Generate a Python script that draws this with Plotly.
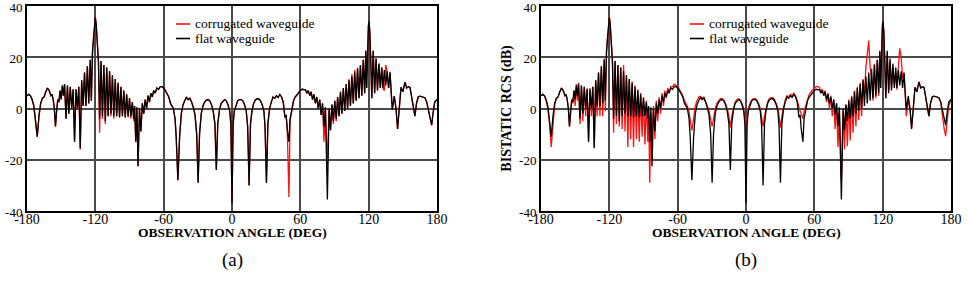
import plotly.graph_objects as go

# ---------------- data ----------------
# Observation angle (deg) of the sampled turning points
ANGLE = [
    -180, -178.5, -177, -175.5, -174, -172.5, -171, -169.5, -168, -166.5,
    -165, -163.5, -162, -160.5, -159, -158, -157, -156, -155, -154,
    -153, -152, -151, -150, -149, -148, -147,
    -145.75, -144.5, -143.25, -142, -140.75, -139.5, -138.25, -137, -135.75, -134.5,
    -133.25, -132, -130.75, -129.5, -128.25, -127, -125.75, -124.5, -123.5, -122.5,
    -121.5, -120.75, -120, -119.25, -118.25, -117.25, -116.25, -115, -113.75, -112.5, -111.25, -110,
    -108.75, -107.5, -106.25, -105, -103.75, -102.5, -101.25, -100, -98.75, -97.5,
    -96.25, -95, -93.75, -92.5, -91.25, -90, -88.75, -87.5, -86.25, -85.5,
    -84.5, -83.5, -82.5, -81.25, -80, -78.75, -77.5, -76.25, -75, -73.75,
    -72.5, -71.25, -70, -68.75, -67.5, -66, -64.5, -63, -61.5, -60,
    -58.5, -57, -55.5, -54, -52.5, -51.5, -50, -49, -47.5, -46,
    -44.5, -43, -41.5, -40, -38.5, -37, -35.5, -34, -32.5, -31,
    -29.75, -28.5, -27, -25.5, -24, -22.5, -21, -19.5, -18, -16.5,
    -15, -13.75, -12.5, -11, -9.5, -8, -6.5, -5, -3.5, -2,
    -1, 0, 1, 2, 3.5, 5, 6.5, 8, 9.5, 11,
    12.5, 13.75, 15, 16.25, 17.5, 19, 20.5, 22, 23.5, 25,
    26.5, 28, 29, 30.25, 31.5, 33, 34.5, 36, 37.5, 39,
    40.5, 42, 43.5, 45, 46.5, 47.5, 48.5, 50, 51, 52.5,
    54, 55.5, 57, 58.5, 60, 61.5, 63, 64.5, 65.75, 67,
    68.25, 69.5, 70.75, 72, 73.25, 74.5, 75.75, 77, 78.25, 79.5,
    80.75, 82, 83.75, 85.25, 86.5, 87.75, 89, 90.25, 91.5, 92.75,
    94, 95.25, 96.5, 97.75, 99, 100.25, 101.5, 102.75, 104, 105.25,
    106.5, 107.75, 109, 110.25, 111.5, 112.75, 114, 115.25, 116.5, 117.5,
    118.25, 119, 119.75, 120.25, 121, 121.75, 122.75, 124, 125.25, 126.5, 127.75, 129, 130.25,
    131.5, 132.5, 133.75, 135, 136.25, 137.5, 138.75, 140, 140.75, 142.5,
    144, 145.4, 147, 148.4, 150, 151.9, 153.4, 155, 156.3, 158,
    159.5, 160.6, 162, 163.5, 165, 167, 169.4, 171, 172.5, 174,
    175.3, 176.5, 178, 180,
]

# Bistatic RCS (dB) of the flat waveguide (same in panels a and b)
FLAT = [
    5, 5.5, 5, 3.5, 1, -4, -11, -3, 2, 4,
    4.5, 6.5, 8, 7, 5, 5.5, 3.5, 0, -7, -1,
    3.5, 2.5, 7, 3.5, 9, 5, 9.5,
    -4, 9, -2, 8.5, 0, 7.5, -13, 7.5, 0, 8.5,
    -15.5, 11, 1, 14, 1, 16.5, 2, 19, 3, 22,
    28, 34, 35.5, 33, 26, 18, -4, 18.5, -3, 17, -5, 16,
    -3, 14.5, -2, 13, -3, 11.5, -3, 10, -3.5, 8.5,
    -3, 7, -3.5, 5.5, -3, 4, -3, 2.5, -4, 1,
    -13, 0.5, -22.5, 0, -9, 2, -2, 3.5, 0, 5,
    2.5, 6, 4.5, 7, 6, 8, 7.5, 8.5, 8.5, 8,
    7, 6, 4.5, 2, 1, 0, -4, -11, -28, -11,
    -2, 1.5, 3, 4.3, 3.5, 4, 2.5, 0.5, -2.5, -10,
    -29, -10, -2, 1, 2.5, 3.3, 3.5, 3, 1.5, -1,
    -6, -24, -6, -0.5, 2, 3, 3.5, 3, 1.5, -1,
    -6, -37, -6, -1, 1.5, 3, 3.5, 3.5, 3, 1.5,
    -1, -7, -30, -6, -1, 2, 3.3, 3.8, 3.8, 3,
    1.5, -1, -7, -29, -6, 0, 2.5, 4.5, 4, 5,
    4.3, 5.5, 4.5, 2.5, -3.5, -2.5, -8, -13, -4, 0,
    3, 4.5, 5.5, 6.5, 7, 7.5, 7.5, 7.3, 6, 7,
    5, 6.5, 3.5, 5.5, 2, 4.5, 0, 3.5, -2.5, 2,
    -7, 0.5, -35.5, 0, -8.5, 1.5, -5, 3, -4, 4.5,
    -3, 6.5, -2, 8, -1, 9.5, 0, 11, 1, 12.5,
    2, 14, 3, 15.5, 4, 17, 5, 19, 6, 22.5,
    8, 24, 32, 34, 30, 20, 4, 22.5, 6, 19.5, 7, 17.5, 8,
    16, 8, 15, 9, 14.5, 8, 14, 5, -0.5, 4.8,
    0, -8, 3, 8.3, 6.5, 10.3, 8, 8.5, 8.2, 4,
    0, -3, 2, 4.5, 4.8, 4.5, 4.2, 2.5, -1, -4,
    -6.5, -2, 2.5, 3.5,
]

# Corrugated waveguide, panel (a)
CORR_A = [
    5, 5.5, 5, 3.5, 1, -4, -11, -3, 2, 4,
    4.5, 6.5, 8, 7, 5, 5.5, 3.5, 0, -7, -1,
    3.5, 2.5, 7, 3.5, 9, 5, 9.5,
    -4, 9, -2, 8.5, 0, 7.5, -13, 7.5, 0, 8.5,
    -16, 11, 1, 14, 1, 16.5, 2, 19, 3, 22,
    28, 34, 35.5, 33, 26, 18, -9.5, 18.5, -4, 17, -6, 16,
    -3, 14.5, -3, 13, -4, 11.5, -3, 10, -3.5, 8.5,
    -3, 7, -3.5, 5.5, -3.5, 4, -4, 2.5, -5, 1,
    -13, 0.5, -22.5, 0, -9, 2, -2, 3.5, 0, 5,
    2.5, 6, 4.5, 7, 6, 8, 7.5, 8.5, 8.5, 8,
    7, 6, 4.5, 2, 1, 0, -4, -11, -28, -11,
    -2, 1.5, 3, 4.3, 3.5, 4, 2.5, 0.5, -2.5, -10,
    -29, -10, -2, 1, 2.5, 3.3, 3.5, 3, 1.5, -1,
    -6, -24, -6, -0.5, 2, 3, 3.5, 3, 1.5, -1,
    -6, -37, -6, -1, 1.5, 3, 3.5, 3.5, 3, 1.5,
    -1, -7, -30, -6, -1, 2, 3.3, 3.8, 3.8, 3,
    1.5, -1, -7, -29, -6, 0, 2.5, 4.5, 4, 5,
    4.3, 5.5, 4.5, 2.5, -3.5, -2.5, -8, -34.5, -5, 0,
    3, 4.5, 5.5, 6.5, 7, 7.5, 7.5, 7.3, 6, 7,
    5, 6.5, 3.5, 5.5, 2, 4.5, 0, 3.5, -2.5, 2,
    -13, 0.5, -22, 0, -8.5, 1.5, -6, 3, -5, 4.5,
    -3, 6.5, -2, 8, -1, 9.5, 0, 11.5, 1, 13.5,
    2, 15, 3, 16, 4, 17, 5, 19, 6, 22.5,
    8, 24, 32, 34, 30, 20, 4, 22.5, 6, 19.5, 7, 17.5, 8,
    16, 8, 7, 17, 14, 8, 14.3, 5, -0.5, 4.8,
    0, -8, 3, 8.3, 6.5, 10.3, 8, 8.5, 8.2, 4,
    0, -3, 2, 4.5, 4.8, 4.5, 4.2, 2.5, -1, -4,
    -6.5, -2, 2.5, 3.5,
]

# Corrugated waveguide, panel (b)
CORR_B = [
    5, 5.5, 5, 3, 0, -6, -15, -5, 1.5, 4,
    4.5, 6.5, 8, 7, 5, 5.5, 3.5, 0, -7, -2,
    3.5, 2, 7, 1, 9.5, 3, 10,
    -6, 9, -5, 8.5, -3, 8, -13, 8, -3, 8.5,
    -15, 11, -3, 14, -3, 16.5, -3, 19.5, -1, 22,
    28, 34, 35.8, 33, 26, 18, -9.5, 18.5, -6, 17, -7, 16,
    -8, 17, -9, 13, -15, 11.5, -12, 10.5, -15, 9,
    -12, 7.5, -13, 6, -11, 4.5, -14, 3, -13, 0,
    -29, -2, -10, 1, -12, 3, -5, 4.5, -2, 6,
    1, 7, 4, 8, 6.5, 8.5, 8.5, 9.5, 9, 8.5,
    7.5, 6.5, 5, 3, 2, 1, -1.5, -5, -8.5, -4,
    1, 3, 4.5, 4.8, 4, 4.5, 3, 1, -1, -5,
    -7, -4, 0, 2, 3, 3.8, 3.8, 3.3, 2, 0,
    -3, -7.5, -3, 0.5, 2.5, 3.5, 3.8, 3.3, 2, 0,
    -3, -7, -3, 0, 2, 3.3, 3.8, 3.8, 3.3, 2,
    0, -3, -7, -3, 0, 2.5, 3.8, 4.2, 4.2, 3.5,
    2, 0, -3, -7.5, -3, 1, 3.5, 5, 4.5, 5.5,
    5, 6, 5, 3, 0, -1, -2, -4, -1, 1.5,
    4, 5.5, 6.5, 7.5, 8, 8.5, 8.6, 8.2, 6.5, 7.5,
    5, 7, 2.5, 6, 0, 5, -3, 3.5, -8, 2,
    -15, -1, -28.3, -1, -16, 1.5, -14.7, 3.5, -12.5, 5,
    -9.5, 7, -7, 8.5, -4.5, 10, -3, 11.5, 5, 16,
    23, 26.5, 16, 12, 3, 17.5, 4, 19, 5, 22,
    8, 24, 32, 34.2, 30, 20, 4, 21, 7, 18, 8, 16, 9,
    14, 7.3, 16, 23.5, 20, 12, 13.8, 3, -3, 3,
    0, -7.6, 3, 8.3, 6.5, 10.5, 8, 8.5, 8.2, 4,
    0, -3, 2, 4.5, 4.8, 4.5, 4.2, 2.5, -3, -8,
    -10.8, -4, 1, 3.5,
]

assert len(ANGLE) == len(FLAT) == len(CORR_A) == len(CORR_B)

SERIES_NAMES = ["corrugated waveguide", "flat waveguide"]
X_TICKS = [-180, -120, -60, 0, 60, 120, 180]
X_TICK_TEXT = ["-180", "-120", "-60", "0", "60", "120", "180"]
Y_TICKS = [-40, -20, 0, 20, 40]
Y_TICK_TEXT = ["-40", "-20", "0", "20", "40"]
PANEL_LABELS = ["(a)", "(b)"]
X_TITLE = "OBSERVATION ANGLE (DEG)"
Y_TITLE = "BISTATIC RCS (dB)"

# ---------------- figure ----------------
SERIF = "Liberation Serif, Times New Roman, serif"
RED = "#ff1010"
BLACK = "#000000"
COLORS = [RED, BLACK]

fig = go.Figure()
for corr, xa, ya in [(CORR_A, "x", "y"), (CORR_B, "x2", "y2")]:
    fig.add_trace(go.Scatter(x=ANGLE, y=corr, mode="lines", name=SERIES_NAMES[0],
                             line=dict(color=RED, width=1.3), xaxis=xa, yaxis=ya,
                             showlegend=False))
    fig.add_trace(go.Scatter(x=ANGLE, y=FLAT, mode="lines", name=SERIES_NAMES[1],
                             line=dict(color=BLACK, width=1.3), xaxis=xa, yaxis=ya,
                             showlegend=False))

W, H = 968, 282
ML, MR, MT, MB = 27, 17, 6, 71
PW = W - ML - MR
PH = H - MT - MB


def px_x(px):
    return (px - ML) / PW


def px_y(py):
    return (H - MB - py) / PH


axis_common = dict(
    showline=True, mirror=True, linecolor="black", linewidth=2,
    showgrid=True, gridcolor="#4a4a4a", gridwidth=1.5, zeroline=False,
    ticks="", automargin=False, ticklabeloverflow="allow",
)
xa_common = dict(axis_common, range=[-180, 180], tickmode="array",
                 tickvals=X_TICKS, ticktext=X_TICK_TEXT, ticklabelstandoff=-6,
                 tickfont=dict(family=SERIF, size=14, color="black"))
ya_common = dict(axis_common, range=[-40, 40], tickmode="array",
                 tickvals=Y_TICKS, ticktext=Y_TICK_TEXT, ticklabelstandoff=0,
                 ticklabelshift=1,
                 tickfont=dict(family=SERIF, size=13, color="black"))

annotations = []
shapes = []
for k, (cx, leg_x0) in enumerate([(232, 176), (746, 690)]):
    # panel label
    annotations.append(dict(text=PANEL_LABELS[k], x=px_x(cx), y=px_y(260),
                            xref="paper", yref="paper", xanchor="center", yanchor="middle",
                            showarrow=False, font=dict(family=SERIF, size=19, color="black")))
    # x-axis title
    annotations.append(dict(text="<b>" + X_TITLE + "</b>", x=px_x(cx), y=px_y(232),
                            xref="paper", yref="paper", xanchor="center", yanchor="middle",
                            showarrow=False, font=dict(family=SERIF, size=13.5, color="black")))
    # legend (drawn as line samples + labels)
    for j, name in enumerate(SERIES_NAMES):
        yy = px_y(24 + 14.5 * j)
        shapes.append(dict(type="line", xref="paper", yref="paper",
                           x0=px_x(leg_x0), x1=px_x(leg_x0 + 14), y0=yy, y1=yy,
                           line=dict(color=COLORS[j], width=1.6)))
        annotations.append(dict(text=name, x=px_x(leg_x0 + 17), y=yy,
                                xref="paper", yref="paper", xanchor="left", yanchor="middle",
                                showarrow=False,
                                font=dict(family=SERIF, size=13.5, color="black")))

fig.update_layout(
    width=W, height=H,
    margin=dict(l=ML, r=MR, t=MT, b=MB),
    paper_bgcolor="white", plot_bgcolor="white",
    xaxis=dict(xa_common, domain=[0, px_x(437)], anchor="y"),
    yaxis=dict(ya_common, domain=[0, 1], anchor="x"),
    xaxis2=dict(xa_common, domain=[px_x(541), 1], anchor="y2"),
    yaxis2=dict(ya_common, domain=[0, 1], anchor="x2",
                title=dict(text="<b>" + Y_TITLE + "</b>",
                           font=dict(family=SERIF, size=14, color="black"),
                           standoff=4)),
    showlegend=False,
    annotations=annotations,
    shapes=shapes,
)

fig.write_html("out.html")
